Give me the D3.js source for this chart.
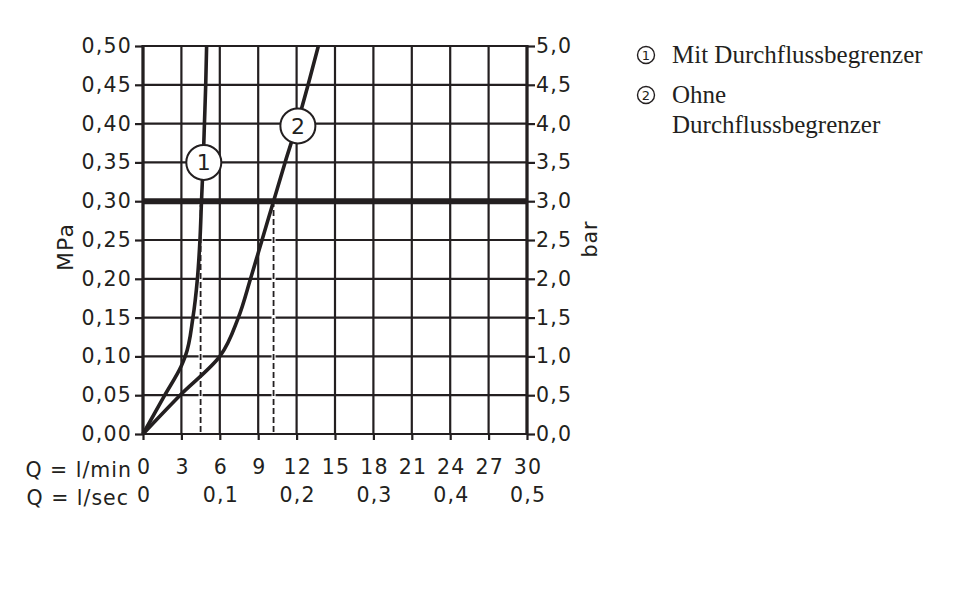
<!DOCTYPE html>
<html>
<head>
<meta charset="utf-8">
<script src="https://cdn.jsdelivr.net/npm/d3@7"></script>
<style>
  body { margin: 0; background: #fff; }
  svg text { fill: #231f20; }
  .tick text { font-family: 'DejaVu Sans', sans-serif; font-size: 20.5px; letter-spacing: 1.2px; }
  .sans { font-family: 'DejaVu Sans', sans-serif; font-size: 20.5px; letter-spacing: 1px; }
  .legend text { font-family: 'Liberation Serif', serif; font-size: 25px; letter-spacing: 0; }
</style>
</head>
<body>
<script>
// flow (l/min) vs pressure (MPa)
const flowTicks = [0, 3, 6, 9, 12, 15, 18, 21, 24, 27, 30]
const secTicks = [0, 0.1, 0.2, 0.3, 0.4, 0.5]
const mpaTicks = [0, 0.05, 0.1, 0.15, 0.2, 0.25, 0.3, 0.35, 0.4, 0.45, 0.5]
const barTicks = [0, 0.5, 1, 1.5, 2, 2.5, 3, 3.5, 4, 4.5, 5]

const curve1Flow = [0, 1.7, 3.0, 3.3, 3.9, 4.25, 4.45, 4.57, 4.7, 4.8, 4.9, 4.97]
const curve1Mpa = [0, 0.05, 0.088, 0.10, 0.15, 0.20, 0.25, 0.30, 0.35, 0.40, 0.45, 0.50]
const curve2Flow = [0, 2.9, 6.0, 7.45, 8.4, 9.3, 10.2, 11.1, 12.05, 12.9, 13.7]
const curve2Mpa = [0, 0.05, 0.10, 0.15, 0.20, 0.25, 0.30, 0.35, 0.40, 0.45, 0.50]

// operating point at 0,3 MPa and curve label positions
const workPressure = 0.3
const dropFlows = [4.5, 10.2]
const labels = [
  { text: '1', flow: 4.75, mpa: 0.35 },
  { text: '2', flow: 12.1, mpa: 0.397 }
]
const legendItems = [
  ['1', 'Mit Durchflussbegrenzer'],
  ['2', 'Ohne', 'Durchflussbegrenzer']
]

const ink = '#231f20'
const fmt = d3.formatLocale({ decimal: ',', thousands: '.', grouping: [3], currency: ['', ''] })

const svg = d3.select('body').append('svg')
  .attr('width', 960)
  .attr('height', 612)

const x = d3.scaleLinear().domain([0, 30]).range([143, 527])
const y = d3.scaleLinear().domain([0, 0.5]).range([434, 46])
const yBar = d3.scaleLinear().domain([0, 5]).range([434, 46])
const xSec = d3.scaleLinear().domain([0, 0.5]).range([143, 527])

// grid
svg.append('g').selectAll('line').data(flowTicks).join('line')
  .attr('x1', x).attr('x2', x).attr('y1', y(0)).attr('y2', y(0.5))
  .attr('stroke', ink).attr('stroke-width', 2.2)
svg.append('g').selectAll('line').data(mpaTicks).join('line')
  .attr('x1', x(0)).attr('x2', x(30)).attr('y1', y).attr('y2', y)
  .attr('stroke', ink).attr('stroke-width', 2.2)

// axes
const styleAxis = g => {
  g.select('.domain').remove()
  g.selectAll('.tick line').attr('stroke', ink).attr('stroke-width', 2.2)
  g.selectAll('.tick text').attr('fill', ink)
}

svg.append('g')
  .attr('transform', `translate(${x(0)},0)`)
  .call(d3.axisLeft(y).tickValues(mpaTicks).tickSize(8).tickPadding(3).tickFormat(fmt.format('.2f')))
  .call(styleAxis)

svg.append('g')
  .attr('transform', `translate(${x(30)},0)`)
  .call(d3.axisRight(yBar).tickValues(barTicks).tickSize(8).tickPadding(1).tickFormat(fmt.format('.1f')))
  .call(styleAxis)

svg.append('g')
  .attr('transform', `translate(0,${y(0)})`)
  .call(d3.axisBottom(x).tickValues(flowTicks).tickSize(6).tickPadding(19).tickFormat(d3.format('d')))
  .call(styleAxis)
  .call(g => g.selectAll('.tick text').attr('dx', '0.6'))

svg.append('g')
  .attr('transform', `translate(0,${y(0)})`)
  .call(d3.axisBottom(xSec).tickValues(secTicks).tickSize(0).tickPadding(53).tickFormat(d => d === 0 ? '0' : fmt.format('.1f')(d)))
  .call(g => g.select('.domain').remove())
  .call(g => g.selectAll('.tick text').attr('dx', '0.6'))

// frame sides
svg.append('g').selectAll('line').data([0, 30]).join('line')
  .attr('x1', x).attr('x2', x).attr('y1', y(0) + 1).attr('y2', y(0.5) - 1)
  .attr('stroke', ink).attr('stroke-width', 3.2)

// heavy line at working pressure
svg.append('line')
  .attr('x1', x(0)).attr('x2', x(30))
  .attr('y1', y(workPressure)).attr('y2', y(workPressure))
  .attr('stroke', ink).attr('stroke-width', 6)

// dashed drop lines
svg.append('g').selectAll('line').data(dropFlows).join('line')
  .attr('x1', x).attr('x2', x)
  .attr('y1', y(0) - 2).attr('y2', y(workPressure) + 3)
  .attr('stroke', '#fff').attr('stroke-width', 4)
svg.append('g').selectAll('line').data(dropFlows).join('line')
  .attr('x1', x).attr('x2', x)
  .attr('y1', y(0) - 2).attr('y2', y(workPressure) + 3)
  .attr('stroke', ink).attr('stroke-width', 1.8)
  .attr('stroke-dasharray', '6,3')

// curves
const line = d3.line()
  .x(d => x(d[0]))
  .y(d => y(d[1]))
  .curve(d3.curveMonotoneY)

const curves = [
  d3.zip(curve1Flow, curve1Mpa),
  d3.zip(curve2Flow, curve2Mpa)
]
svg.append('g').selectAll('path').data(curves).join('path')
  .attr('d', line)
  .attr('fill', 'none')
  .attr('stroke', ink)
  .attr('stroke-width', 3.6)
  .attr('stroke-linejoin', 'round')

// curve labels
const lab = svg.append('g').selectAll('g').data(labels).join('g')
  .attr('transform', d => `translate(${x(d.flow)},${y(d.mpa)})`)
lab.append('circle')
  .attr('r', 17.5)
  .attr('fill', '#fff')
  .attr('stroke', ink)
  .attr('stroke-width', 2)
lab.append('text')
  .attr('text-anchor', 'middle')
  .attr('dy', '0.36em')
  .style('font-family', "'DejaVu Sans', sans-serif")
  .style('font-size', '22px')
  .text(d => d.text)

// axis titles
svg.append('text')
  .attr('class', 'sans')
  .attr('transform', `translate(73,247) rotate(-90)`)
  .attr('text-anchor', 'middle')
  .style('font-size', '22px')
  .text('MPa')
svg.append('text')
  .attr('class', 'sans')
  .attr('transform', `translate(597,239) rotate(-90)`)
  .attr('text-anchor', 'middle')
  .text('bar')

svg.append('text')
  .attr('class', 'sans')
  .attr('x', 132).attr('y', 477)
  .attr('text-anchor', 'end')
  .text('Q = l/min')
svg.append('text')
  .attr('class', 'sans')
  .attr('x', 129).attr('y', 505)
  .attr('text-anchor', 'end')
  .text('Q = l/sec')

// legend
const legend = svg.append('g').attr('class', 'legend')
legendItems.forEach((item, i) => {
  const top = i === 0 ? 63 : 103
  legend.append('circle')
    .attr('cx', 646).attr('cy', top - 8)
    .attr('r', 8.5)
    .attr('fill', 'none')
    .attr('stroke', ink)
    .attr('stroke-width', 1.4)
  legend.append('text')
    .attr('x', 646).attr('y', top - 8)
    .attr('dy', '0.36em')
    .attr('text-anchor', 'middle')
    .style('font-family', "'DejaVu Sans', sans-serif")
    .style('font-size', '13px')
    .text(item[0])
  item.slice(1).forEach((t, j) => {
    legend.append('text')
      .attr('x', 672).attr('y', top + j * 30)
      .text(t)
  })
})
</script>
</body>
</html>
